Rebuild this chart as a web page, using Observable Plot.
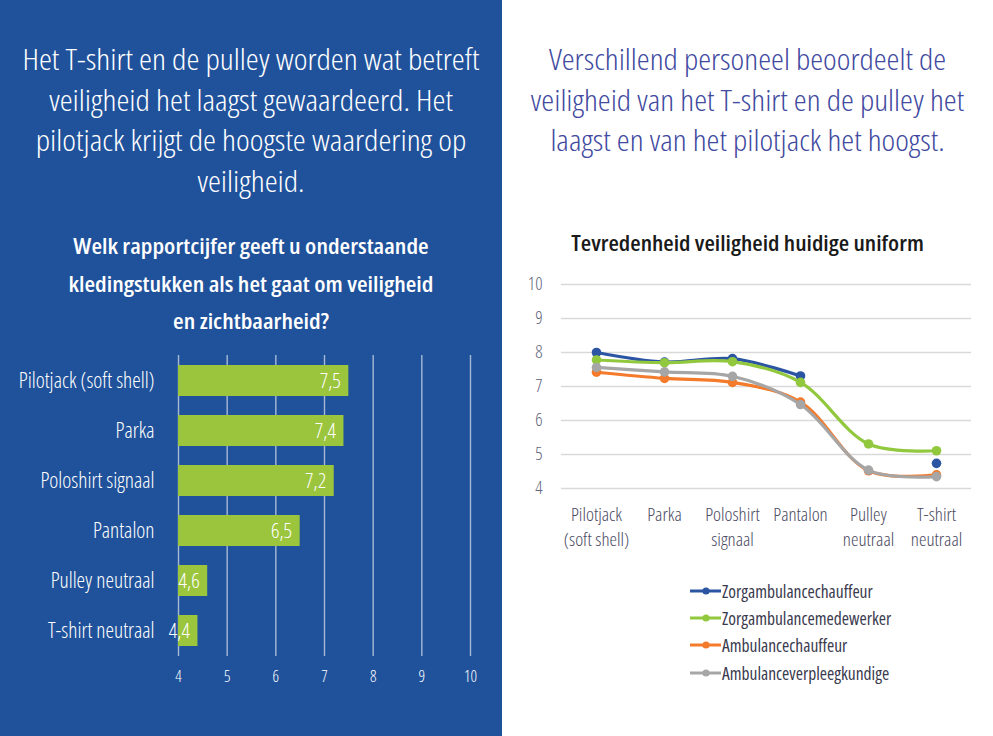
<!DOCTYPE html>
<html>
<head>
<meta charset="utf-8">
<script src="https://cdn.jsdelivr.net/npm/d3@7"></script>
<script src="https://cdn.jsdelivr.net/npm/@observablehq/plot@0.6"></script>
<style>
  html, body { margin: 0; padding: 0; background: #ffffff; }
  body { width: 993px; height: 736px; position: relative; overflow: hidden;
         font-family: "Open Sans", "Noto Sans", sans-serif; font-stretch: condensed; }
  svg text { font-stretch: condensed; }
  #left { position: absolute; left: 0; top: 0; width: 502px; height: 736px; background: #20529b; }
  .ttl { position: absolute; text-align: center; white-space: nowrap; transform-origin: 50% 50%; }
  #lt { left: 0; width: 502px; top: 39px; color: #ffffff; font-size: 29.5px; line-height: 40.5px; font-weight: 300; transform: scaleX(1.11); }
  #ls { left: 0; width: 502px; top: 227px; color: #ffffff; font-size: 21.5px; line-height: 37.5px; font-weight: 600; transform: scaleX(1.13); }
  #rt { left: 502px; width: 491px; top: 39px; color: #414a9f; font-size: 29.5px; line-height: 40.5px; font-weight: 300; transform: scaleX(1.105); }
  #rct { left: 502px; width: 491px; top: 229px; color: #1a1a1a; font-size: 21px; font-weight: 600; transform: scaleX(1.135); }
  #bars { position: absolute; left: 0; top: 340px; }
  #lines { position: absolute; left: 502px; top: 265px; }
  #legend { position: absolute; left: 689px; top: 577px; }
  .li { height: 27.3px; display: flex; align-items: center; font-size: 17.5px; color: #3a3a4e; font-weight: 400; }
  .li svg { margin-right: 0px; }
</style>
</head>
<body>
<div id="left"></div>
<div class="ttl" id="lt">Het T-shirt en de pulley worden wat betreft<br>veiligheid het laagst gewaardeerd. Het<br>pilotjack krijgt de hoogste waardering op<br>veiligheid.</div>
<div class="ttl" id="ls">Welk rapportcijfer geeft u onderstaande<br>kledingstukken als het gaat om veiligheid<br>en zichtbaarheid?</div>
<div class="ttl" id="rt">Verschillend personeel beoordeelt de<br>veiligheid van het T-shirt en de pulley het<br>laagst en van het pilotjack het hoogst.</div>
<div class="ttl" id="rct">Tevredenheid veiligheid huidige uniform</div>
<div id="bars"></div>
<div id="lines"></div>
<div id="legend"></div>
<script>
// ---- Bar chart data (left) ----
const barCategories = ["Pilotjack (soft shell)", "Parka", "Poloshirt signaal", "Pantalon", "Pulley neutraal", "T-shirt neutraal"];
const barValues = [7.5, 7.4, 7.2, 6.5, 4.6, 4.4];
const barTicks = [4, 5, 6, 7, 8, 9, 10];

// ---- Line chart data (right) ----
const lineCategories = ["Pilotjack (soft shell)", "Parka", "Poloshirt signaal", "Pantalon", "Pulley neutraal", "T-shirt neutraal"];
const lineTickLabels = ["Pilotjack\n(soft shell)", "Parka", "Poloshirt\nsignaal", "Pantalon", "Pulley\nneutraal", "T-shirt\nneutraal"];
const seriesNames = ["Zorgambulancechauffeur", "Zorgambulancemedewerker", "Ambulancechauffeur", "Ambulanceverpleegkundige"];
const seriesColors = ["#2b55a3", "#92c83e", "#f47b2b", "#a6a6a6"];
const zorgChauffeur = [8.0, 7.72, 7.82, 7.31, null, 4.74];
const zorgMedewerker = [7.78, 7.70, 7.73, 7.12, 5.31, 5.11];
const ambChauffeur = [7.42, 7.24, 7.12, 6.54, 4.52, 4.40];
const ambVerpleeg = [7.56, 7.43, 7.30, 6.47, 4.54, 4.35];
const lineTicks = [4, 5, 6, 7, 8, 9, 10];

const fontStyle = {fontFamily: '"Open Sans", "Noto Sans", sans-serif', background: "transparent", overflow: "visible"};

// ---- Bar chart ----
const barData = barCategories.map((c, i) => ({cat: c, value: barValues[i]}));
const fmt = v => String(v).replace(".", ",");
const barPlot = Plot.plot({
  width: 502, height: 360,
  marginLeft: 178, marginRight: 32, marginTop: 15, marginBottom: 44,
  style: {...fontStyle, color: "#ffffff"},
  x: {domain: [4, 10], label: null},
  y: {domain: barCategories, paddingInner: 0.39, paddingOuter: 0.195, label: null},
  marks: [
    Plot.gridX(barTicks, {stroke: "#ffffff", strokeOpacity: 0.6, strokeWidth: 1.4}),
    Plot.barX(barData, {x1: 4, x2: "value", y: "cat", fill: "#9bc53d"}),
    Plot.text(barData, {x: "value", y: "cat", text: d => fmt(d.value), textAnchor: "end", dx: -8, fill: "#ffffff", fontSize: 21, fontWeight: 300}),
    Plot.axisX(barTicks, {tickSize: 0, tickPadding: 14, fontSize: 16, fill: "#ffffff", fontWeight: 300, tickFormat: d => String(d)}),
    Plot.axisY({tickSize: 0, tickPadding: 24, fontSize: 21.5, fill: "#ffffff", fontWeight: 300})
  ]
});
document.getElementById("bars").appendChild(barPlot);

// ---- Line chart ----
const seriesValues = [zorgChauffeur, zorgMedewerker, ambChauffeur, ambVerpleeg];
const lineData = [];
seriesNames.forEach((s, si) => lineCategories.forEach((c, ci) => lineData.push({series: s, cat: c, value: seriesValues[si][ci]})));
const labelMap = new Map(lineCategories.map((c, i) => [c, lineTickLabels[i]]));
const lineMarks = [
  Plot.gridY(lineTicks, {stroke: "#d9d9d9", strokeOpacity: 1, strokeWidth: 1.5})
];
seriesNames.forEach((s, si) => {
  const d = lineData.filter(r => r.series === s);
  lineMarks.push(Plot.line(d, {x: "cat", y: "value", stroke: seriesColors[si], strokeWidth: 3.2, curve: "catmull-rom"}));
  lineMarks.push(Plot.dot(d.filter(r => r.value != null), {x: "cat", y: "value", fill: seriesColors[si], r: 4.8}));
});
lineMarks.push(Plot.axisX({tickSize: 0, tickPadding: 15, fontSize: 19, fill: "#4a4a62", fontWeight: 300, lineHeight: 1.32, tickFormat: c => labelMap.get(c)}));
lineMarks.push(Plot.axisY(lineTicks, {tickSize: 0, tickPadding: 19, fontSize: 18, fill: "#62647a", fontWeight: 300, tickFormat: d => String(d)}));
const linePlot = Plot.plot({
  width: 491, height: 300,
  marginLeft: 59, marginRight: 22, marginTop: 19, marginBottom: 77,
  style: {...fontStyle, color: "#444"},
  x: {type: "point", domain: lineCategories, padding: 0.5, label: null},
  y: {domain: [4, 10], label: null},
  marks: lineMarks
});
document.getElementById("lines").appendChild(linePlot);

// ---- Legend ----
const legend = d3.select("#legend");
seriesNames.forEach((s, i) => {
  const row = legend.append("div").attr("class", "li");
  const sv = row.append("svg").attr("width", 33).attr("height", 12);
  sv.append("line").attr("x1", 1).attr("x2", 32).attr("y1", 6).attr("y2", 6).attr("stroke", seriesColors[i]).attr("stroke-width", 3);
  sv.append("circle").attr("cx", 17).attr("cy", 6).attr("r", 3.6).attr("fill", seriesColors[i]);
  row.append("span").text(s);
});
</script>
</body>
</html>
